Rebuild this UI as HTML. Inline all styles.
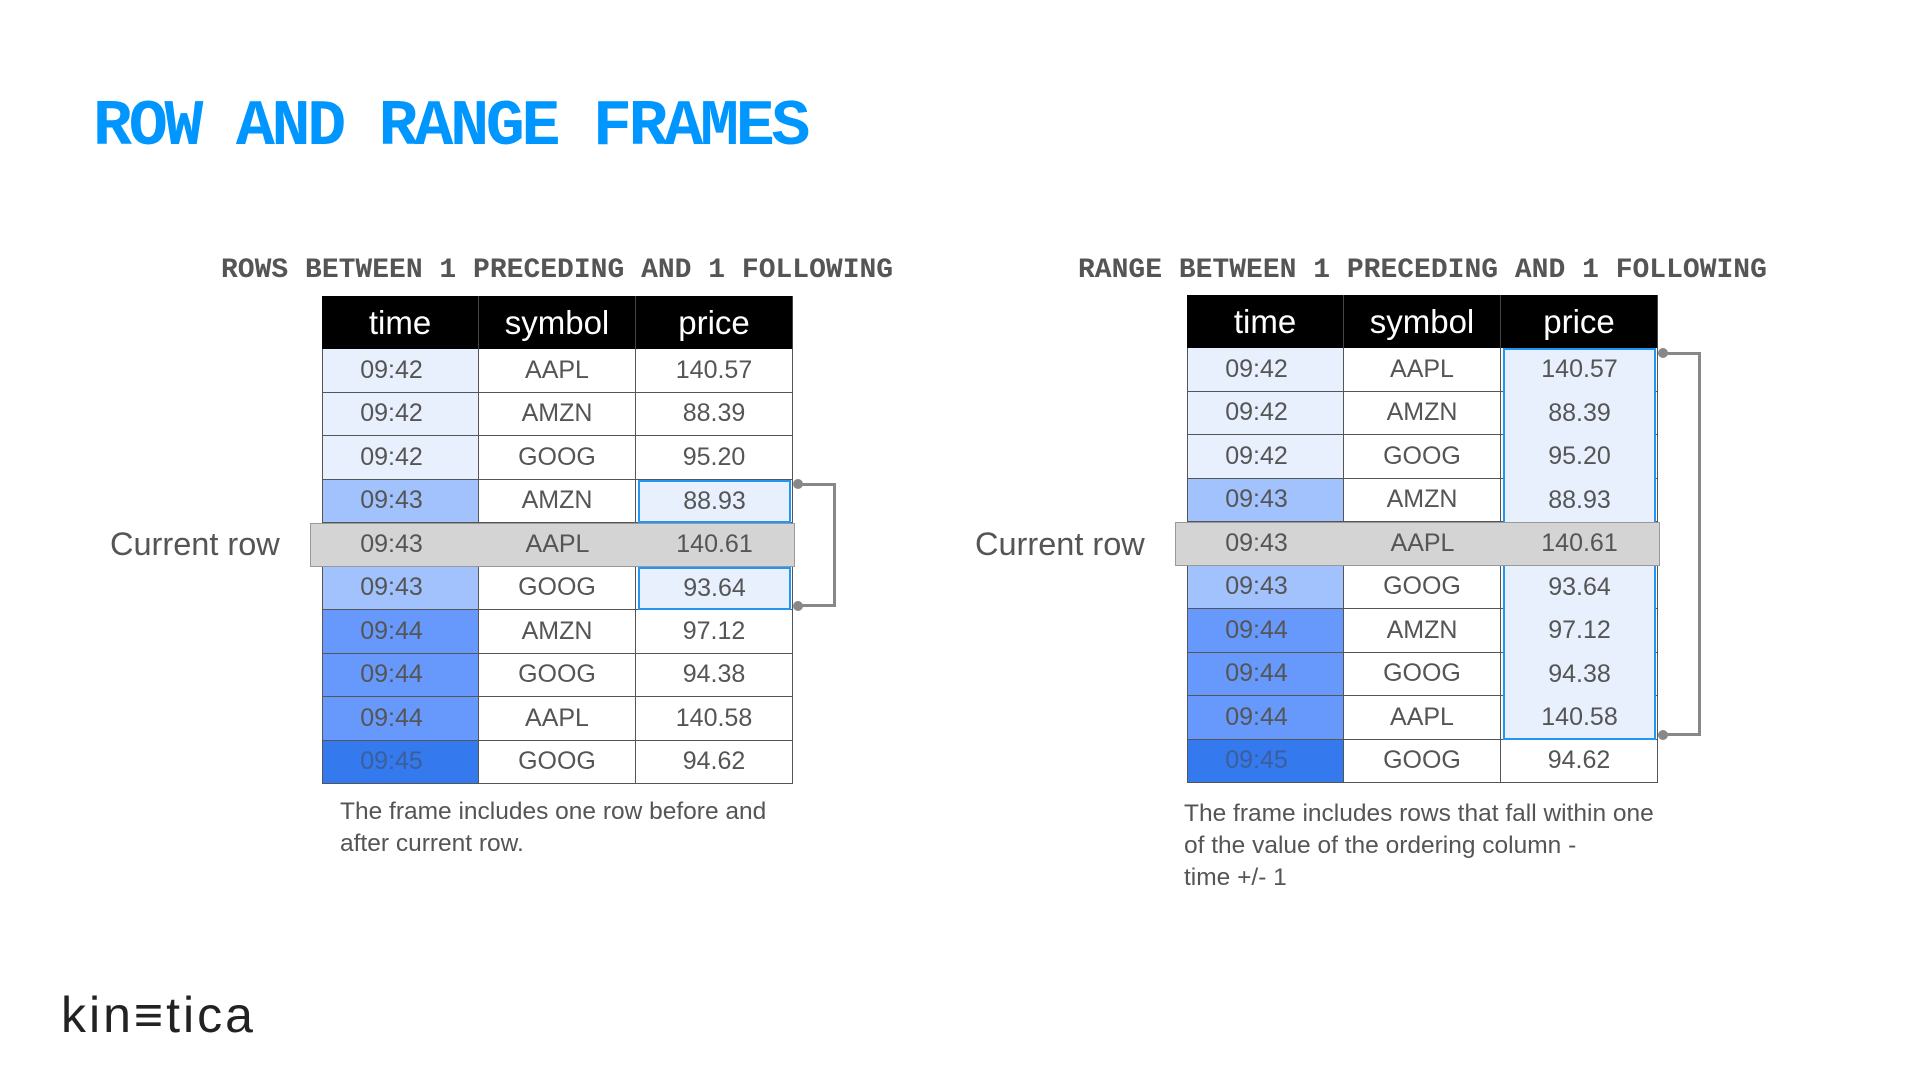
<!DOCTYPE html>
<html><head><meta charset="utf-8">
<style>
html,body{margin:0;padding:0;background:#fff;}
body{width:1920px;height:1080px;position:relative;overflow:hidden;font-family:"Liberation Sans",sans-serif;}
.abs{position:absolute;}
.title{left:93px;top:92px;font-family:"Liberation Mono",monospace;font-weight:bold;font-size:65px;letter-spacing:-3.3px;color:#0096ff;line-height:70px;white-space:nowrap;}
.sub{font-family:"Liberation Mono",monospace;font-weight:bold;font-size:28px;color:#555;white-space:nowrap;line-height:32px;}
.cell{position:absolute;box-sizing:border-box;display:flex;align-items:center;justify-content:center;font-size:25px;color:#555;border-right:1px solid #555;border-bottom:1px solid #555;}
.hcell{position:absolute;box-sizing:border-box;display:flex;align-items:center;justify-content:center;font-size:33px;color:#fff;background:#000;border-right:1px solid #444;}
.cur{font-size:32.5px;color:#555;white-space:nowrap;}
.cap{font-size:24.5px;color:#555;line-height:32px;white-space:nowrap;}
</style></head><body>
<div class="abs title">ROW AND RANGE FRAMES</div>
<div class="abs sub" style="left:221px;top:255px">ROWS BETWEEN 1 PRECEDING AND 1 FOLLOWING</div>
<div class="abs sub" style="left:1078px;top:255px">RANGE BETWEEN 1 PRECEDING AND 1 FOLLOWING</div>
<div class="abs cur" style="left:110px;top:526px">Current row</div>
<div class="abs cur" style="left:975px;top:526px">Current row</div>
<div class="abs cap" style="left:340px;top:796px">The frame includes one row before and<br>after current row.</div>
<div class="abs cap" style="left:1184px;top:798px">The frame includes rows that fall within one<br>of the value of the ordering column -<br>time +/- 1</div>
<div class="abs" style="left:61px;top:986px;font-size:50px;color:#222;letter-spacing:3px">kin≡tica</div>
<div id="root"></div>
<script>
const headers=["time","symbol","price"];
const times=["09:42","09:42","09:42","09:43","09:43","09:43","09:44","09:44","09:44","09:45"];
const symbols=["AAPL","AMZN","GOOG","AMZN","AAPL","GOOG","AMZN","GOOG","AAPL","GOOG"];
const prices=["140.57","88.39","95.20","88.93","140.61","93.64","97.12","94.38","140.58","94.62"];
const currentIndex=4;
const rowsFrame=[3,5];
const rangeFrame=[0,8];
const timeColors={"09:42":"#e8f0fe","09:43":"#a1c2fd","09:44":"#6699fb","09:45":"#3479ee"};
const root=document.getElementById('root');
function mk(cls,style,text){const d=document.createElement('div');d.className=cls;d.style.cssText=style;if(text!==undefined)d.textContent=text;root.appendChild(d);return d;}
function table(prefix,x0,y0,mode){
  const cw=157,hh=53,rh=43.5;
  headers.forEach((h,c)=>{
    const d=mk('hcell',`left:${x0+c*cw}px;top:${y0}px;width:${cw}px;height:${hh}px;`,h);
    
    
  });
  const top=y0+hh;
  times.forEach((t,r)=>{
    const y=top+r*rh;
    const vals=[t,symbols[r],prices[r]];
    vals.forEach((v,c)=>{
      let bg=c===0?timeColors[t]:'#fff';
      let col=(c===0&&t==='09:45')?'#3a5f9a':'#555';
      const d=mk('cell',`left:${x0+c*cw}px;top:${y}px;width:${cw}px;height:${rh}px;background:${bg};color:${col};`+(c===0?'border-left:1px solid #555;padding-right:18px;':''),v);
      
      
    });
  });
  const cy=top+currentIndex*rh;
  function curRow(suffix){
    const cr=mk('', `position:absolute;left:${x0-12}px;top:${cy}px;width:${3*cw+14}px;height:${rh}px;background:#d4d4d4;border:1px solid #999;box-sizing:border-box;`);
    
    
    [times[currentIndex],symbols[currentIndex],prices[currentIndex]].forEach((v,c)=>{
      const d=mk('', `position:absolute;left:${x0+c*cw}px;top:${cy}px;width:${cw}px;height:${rh}px;box-sizing:border-box;display:flex;align-items:center;justify-content:center;font-size:25px;color:#555;`+(c===0?'padding-right:18px;':''),v);
      
      
    });
  }
  curRow('');
  const px=x0+2*cw;
  const f=mode==='rows'?rowsFrame:rangeFrame;
  if(mode==='rows'){
    f.forEach(r=>{
      const b=mk('', `position:absolute;left:${px+2}px;top:${top+r*rh}px;width:${cw-4}px;height:${rh}px;border:2px solid #2196f3;box-sizing:border-box;background:#e8f0fe;display:flex;align-items:center;justify-content:center;font-size:25px;color:#555;`,prices[r]);
      
      
    });
  } else {
    const b=mk('', `position:absolute;left:${px+2}px;top:${top+f[0]*rh}px;width:${cw-4}px;height:${(f[1]-f[0]+1)*rh}px;border:2px solid #2196f3;box-sizing:border-box;background:#e8f0fe;`);
    
    
    for(let r=f[0];r<=f[1];r++){ if(r===currentIndex) continue;
      const d=mk('', `position:absolute;left:${px}px;top:${top+r*rh}px;width:${cw}px;height:${rh}px;display:flex;align-items:center;justify-content:center;font-size:25px;color:#555;`,prices[r]);
      
      
    }
    curRow('-overlay');
  }
  const y1=top+f[0]*rh+(mode==='rows'?3:4), y2=top+(f[1]+1)*rh-(mode==='rows'?3:4);
  const bx=px+cw+5;
  const br=mk('', `position:absolute;left:${bx}px;top:${y1}px;width:${38}px;height:${y2-y1}px;border:3px solid #888;border-left:none;box-sizing:border-box;`);
  
  
  [y1,y2].forEach((yy,i)=>{
    const dot=mk('', `position:absolute;left:${bx-5}px;top:${yy-5+(i?-1:1)}px;width:10px;height:10px;border-radius:50%;background:#888;`);
    
    
  });
}
table('rows-table',322,296,'rows');
table('range-table',1187,295,'range');
</script>
</body></html>
